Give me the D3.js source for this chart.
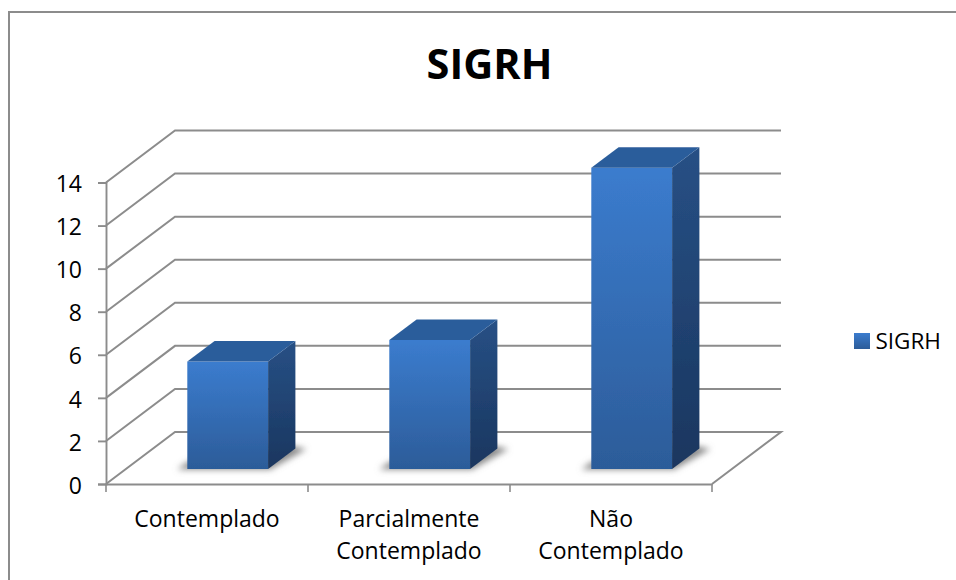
<!DOCTYPE html>
<html>
<head>
<meta charset="utf-8">
<script src="https://d3js.org/d3.v7.min.js"></script>
<style>
html, body { margin: 0; padding: 0; background: #fff; }
svg { display: block; }
text { font-family: "Open Sans", Lato, sans-serif; fill: #000; }
</style>
</head>
<body>
<script>
// chart values
const categories = ["Contemplado", "Parcialmente Contemplado", "Não Contemplado"];
const categoryLines = [["Contemplado"], ["Parcialmente", "Contemplado"], ["Não", "Contemplado"]];
const values = [5, 6, 14];
const yTicks = [0, 2, 4, 6, 8, 10, 12, 14];
const seriesName = "SIGRH";

const width = 956, height = 580;

// 3d box: how far the back wall sits from the front of the floor
const depthX = 69, depthY = -52;
// bars stand part way into the floor
const barInX = 20.7, barInY = -15, barDepthX = 27.3, barDepthY = -20.5;

const svg = d3.select("body").append("svg")
  .attr("width", width)
  .attr("height", height);

const defs = svg.append("defs");

function addGradient(id, top, bottom) {
  const g = defs.append("linearGradient").attr("id", id)
    .attr("x1", 0).attr("y1", 0).attr("x2", 0).attr("y2", 1);
  g.append("stop").attr("offset", "0%").attr("stop-color", top);
  g.append("stop").attr("offset", "100%").attr("stop-color", bottom);
}
addGradient("front", "#3b7cce", "#2c5c99");
addGradient("side", "#275085", "#1a365f");

defs.append("filter").attr("id", "shadow")
  .attr("x", "-30%").attr("y", "-80%").attr("width", "160%").attr("height", "260%")
  .append("feGaussianBlur").attr("stdDeviation", 3);
defs.append("filter").attr("id", "soft")
  .append("feGaussianBlur").attr("stdDeviation", 0.45);

// outer frame
svg.append("rect")
  .attr("x", 9).attr("y", 12)
  .attr("width", width).attr("height", height)
  .attr("fill", "#fff")
  .attr("stroke", "#8c8c8c")
  .attr("stroke-width", 2);

const x = d3.scaleBand().domain(categories).range([106, 712]);
const y = d3.scaleLinear().domain([0, 14]).range([484, 182.5]);

const chart = svg.append("g").attr("filter", "url(#soft)");

// walls: each gridline runs from the front edge back and then across
const line = d3.line();
const gridColor = "#8c8c8c";

chart.selectAll(".grid")
  .data(yTicks.slice(1))
  .enter()
  .append("path")
  .attr("class", "grid")
  .attr("fill", "none")
  .attr("stroke", gridColor)
  .attr("stroke-width", 2)
  .attr("d", d => line([
    [x.range()[0], y(d)],
    [x.range()[0] + depthX, y(d) + depthY],
    [x.range()[1] + depthX, y(d) + depthY]
  ]));

// floor
chart.append("path")
  .attr("fill", "none")
  .attr("stroke", gridColor)
  .attr("stroke-width", 2)
  .attr("d", line([
    [x.range()[0], y(0)],
    [x.range()[0] + depthX, y(0) + depthY],
    [x.range()[1] + depthX, y(0) + depthY],
    [x.range()[1], y(0)]
  ]));

const yAxis = d3.axisLeft(y).tickValues(yTicks).tickSize(8).tickPadding(16);
const xAxis = d3.axisBottom(x).tickValues([]).tickSize(0);

const yG = svg.append("g")
  .attr("transform", "translate(" + x.range()[0] + ",0)")
  .call(yAxis);
yG.selectAll("path, line").attr("stroke", gridColor).attr("stroke-width", 1.9);
yG.selectAll("text")
  .style("font-size", "23px")
  .attr("dy", "0.4em");

const xG = svg.append("g")
  .attr("transform", "translate(0," + y(0) + ")")
  .call(xAxis);
xG.select("path").attr("stroke", gridColor).attr("stroke-width", 1.9);

svg.selectAll(".xtick")
  .data(d3.range(categories.length + 1))
  .enter()
  .append("line")
  .attr("class", "xtick")
  .attr("x1", i => x.range()[0] + i * x.step())
  .attr("x2", i => x.range()[0] + i * x.step())
  .attr("y1", y(0))
  .attr("y2", y(0) + 8)
  .attr("stroke", gridColor)
  .attr("stroke-width", 1.6);

// bars
const barW = x.bandwidth() * 0.4;
const barLeft = d => x(categories[d]) + (x.bandwidth() - barW) / 2 + barInX;
const barTop = d => y(values[d]) + barInY + 0.2;
const barBottom = y(0) + barInY;

const pts = a => a.map(p => p.join(",")).join(" ");

const bars = chart.selectAll(".bar")
  .data(d3.range(values.length))
  .enter()
  .append("g")
  .attr("class", "bar");

// shadow on the floor
bars.append("polygon")
  .attr("points", d => pts([
    [barLeft(d) - 10, barBottom + 0.5],
    [barLeft(d) + barW + 2, barBottom + 0.5],
    [barLeft(d) + barW + barDepthX + 11, barBottom + barDepthY + 0.5],
    [barLeft(d) + barW + barDepthX - 6, barBottom + barDepthY - 3],
    [barLeft(d), barBottom - 7]
  ]))
  .attr("fill", "#8a8a8a")
  .attr("filter", "url(#shadow)");

bars.append("rect")
  .attr("x", barLeft)
  .attr("y", barTop)
  .attr("width", barW)
  .attr("height", d => barBottom - barTop(d))
  .attr("fill", "url(#front)");

bars.append("polygon")
  .attr("points", d => pts([
    [barLeft(d) + barW, barTop(d)],
    [barLeft(d) + barW + barDepthX, barTop(d) + barDepthY],
    [barLeft(d) + barW + barDepthX, barBottom + barDepthY],
    [barLeft(d) + barW, barBottom]
  ]))
  .attr("fill", "url(#side)");

bars.append("polygon")
  .attr("points", d => pts([
    [barLeft(d), barTop(d)],
    [barLeft(d) + barDepthX, barTop(d) + barDepthY],
    [barLeft(d) + barW + barDepthX, barTop(d) + barDepthY],
    [barLeft(d) + barW, barTop(d)]
  ]))
  .attr("fill", "#2b5d9b");

// category labels
const labels = svg.selectAll(".cat")
  .data(categoryLines)
  .enter()
  .append("text")
  .attr("class", "cat")
  .attr("text-anchor", "middle")
  .style("font-size", "23px");

labels.selectAll("tspan")
  .data((d, i) => d.map(t => ({ t: t, i: i })))
  .enter()
  .append("tspan")
  .attr("x", d => x(categories[d.i]) + x.bandwidth() / 2)
  .attr("y", (d, j) => 527 + j * 32)
  .text(d => d.t);

// title
svg.append("text")
  .attr("x", 489.5)
  .attr("y", 79)
  .attr("text-anchor", "middle")
  .style("font-size", "41.5px")
  .style("font-weight", "bold")
  .text(seriesName);

// legend
svg.append("rect")
  .attr("x", 854).attr("y", 333)
  .attr("width", 16).attr("height", 16)
  .attr("fill", "url(#front)");
svg.append("text")
  .attr("x", 875.5)
  .attr("y", 349)
  .style("font-size", "22.5px")
  .text(seriesName);
</script>
</body>
</html>
